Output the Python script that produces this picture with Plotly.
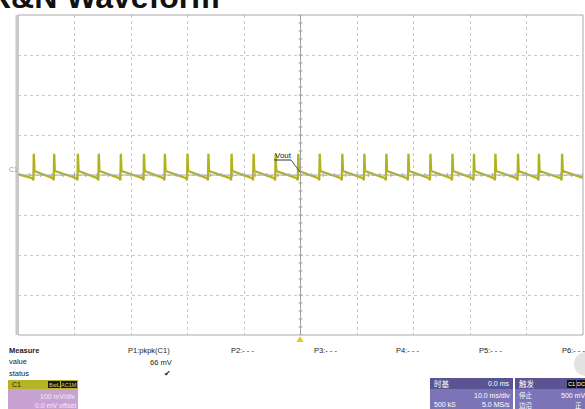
import plotly.graph_objects as go

# ---- scope settings ----
time_per_div_ms = 10.0
volt_per_div_mv = 100.0
x_range = [-50, 50]
y_range = [-400, 400]

# ---- ripple waveform (C1) ----
spike_times_ms = [-47.2, -43.6, -39.4, -35.7, -31.8, -27.7, -24.0, -20.0,
                  -16.3, -12.2, -8.3, -4.4, -0.4, 3.4, 7.4, 11.3, 15.2,
                  19.1, 23.0, 26.9, 30.7, 34.5, 38.5, 42.2, 46.3]
pkpk_mv = 66
valley_mv = -13
peak_mv = valley_mv + pkpk_mv
ramp_start_mv = 10
ramp_end_mv = -8
start_level_mv = 2
end_level_mv = -7

# ---- measurement panel ----
measure_labels = ["P1:pkpk(C1)", "P2:- - -", "P3:- - -", "P4:- - -", "P5:- - -", "P6:- - -"]
measure_value = f"{pkpk_mv} mV"

# build the trace from the spike list
xs = [x_range[0]]
ys = [start_level_mv]
for t in spike_times_ms:
    xs += [t - 0.25, t - 0.08, t, t + 0.12]
    ys += [ramp_end_mv, valley_mv, peak_mv, ramp_start_mv]
xs.append(x_range[1])
ys.append(end_level_mv)

TRACE = "#b2b21c"
GRID = "#c8c8c8"
FONT = "Liberation Sans, Arial, sans-serif"
CJK = "Noto Sans CJK SC, sans-serif"

W, H = 585, 409
L, R, T, B = 18, 583, 15, 335


def px(x):
    return (x - L) / (R - L)


def py(y):
    return (B - y) / (B - T)


fig = go.Figure()
fig.add_trace(go.Scatter(x=xs, y=ys, mode="lines",
                         line=dict(color=TRACE, width=2.3), hoverinfo="skip"))

shapes = []
# center cross-hair with minor ticks
shapes.append(dict(type="line", xref="x", yref="y", x0=0, x1=0, y0=y_range[0], y1=y_range[1],
                   line=dict(color="#a0a0a0", width=1)))
shapes.append(dict(type="line", xref="x", yref="y", x0=x_range[0], x1=x_range[1], y0=0, y1=0,
                   line=dict(color="#a8a8a8", width=1)))
for i in range(-25, 26):
    t = i * time_per_div_ms / 5
    shapes.append(dict(type="line", xref="x", yref="y", x0=t, x1=t, y0=-5, y1=5,
                       line=dict(color="#a8a8a8", width=1)))
for i in range(-20, 21):
    v = i * volt_per_div_mv / 5
    shapes.append(dict(type="line", xref="x", yref="y", x0=-0.35, x1=0.35, y0=v, y1=v,
                       line=dict(color="#a0a0a0", width=1)))
# graticule border
shapes.append(dict(type="rect", xref="paper", yref="paper", x0=0, x1=1, y0=0, y1=1,
                   line=dict(color="#a8a8a8", width=1)))
shapes.append(dict(type="line", xref="paper", yref="paper", x0=px(17), x1=px(17), y0=0, y1=1,
                   line=dict(color="#c8c8c8", width=3)))

# Vout callout
shapes.append(dict(type="line", xref="paper", yref="paper", x0=px(274), x1=px(291),
                   y0=py(160), y1=py(160), line=dict(color="#333333", width=1)))
shapes.append(dict(type="line", xref="paper", yref="paper", x0=px(291), x1=px(300),
                   y0=py(160), y1=py(172), line=dict(color="#555555", width=1)))

# trigger position marker under the graticule
shapes.append(dict(type="path", xref="paper", yref="paper",
                   path=f"M {px(296.5)} {py(342)} L {px(303.5)} {py(342)} L {px(300)} {py(336)} Z",
                   fillcolor="#d8cc2a", line=dict(width=0)))


def box(x0, x1, y0, y1, color):
    shapes.append(dict(type="rect", xref="paper", yref="paper", x0=px(x0), x1=px(x1),
                       y0=py(y1), y1=py(y0), fillcolor=color, line=dict(width=0), layer="above"))


# channel box
box(8, 78, 380, 409, "#c9a2d4")
box(8, 78, 380, 389, "#b4b424")
box(48, 60, 381, 388, "#1a1a1a")
box(61, 77, 381, 388, "#1a1a1a")
# timebase box
box(430, 513, 378, 409, "#7c74b6")
box(430, 513, 378, 389, "#5a5494")
# trigger box
box(515, 585, 378, 409, "#7c74b6")
box(515, 585, 378, 389, "#5a5494")
box(567, 576, 380, 388, "#111111")
box(577, 585, 380, 388, "#111111")
# faint watermark fragments
shapes.append(dict(type="circle", xref="paper", yref="paper", x0=px(574), x1=px(598),
                   y0=py(376), y1=py(352), fillcolor="#e2e2e2", line=dict(width=0)))

annotations = []


def text(x, y, s, size=8, color="#222222", anchor="left", bold=False, family=FONT):
    if bold:
        s = f"<b>{s}</b>"
    annotations.append(dict(x=px(x), y=py(y), xref="paper", yref="paper", text=s,
                            showarrow=False, xanchor=anchor, yanchor="middle",
                            borderpad=0,
                            font=dict(size=size, color=color, family=family)))


# title (partly above the page edge)
text(-13, -3, "R&N Waveform", size=32, color="#111111", bold=True)

text(8, 169, "C1", size=7, color=TRACE)
text(283, 155, "Vout", size=8, color="#222222", anchor="center")

text(8, 350, "Measure", size=7.5, bold=True)
text(8, 361, "value", size=7.5)
text(8, 373, "status", size=7.5)
meas_x = [127, 230, 313, 395, 478, 561]
for lab, mx in zip(measure_labels, meas_x):
    text(mx, 350, lab, size=7.5)
text(173, 362, measure_value, size=7.5, anchor="right")
text(167, 373, "✔", size=8, anchor="center")

text(11, 384, "C1", size=7, color="#222222")
text(54, 384.5, "BwL", size=5.5, color="#d8d060", anchor="center")
text(69, 384.5, "AC1M", size=5.5, color="#d8d060", anchor="center")
text(77, 396, f"{volt_per_div_mv:.0f} mV/div", size=7, color="#f4eaf6", anchor="right")
text(77, 405, "0.0 mV offset", size=7, color="#f4eaf6", anchor="right")

text(433, 383, "时基", size=7.5, color="#ffffff", family=CJK)
text(511, 383, "0.0 ms", size=7, color="#ffffff", anchor="right")
text(511, 395, f"{time_per_div_ms:.1f} ms/div", size=7, color="#ffffff", anchor="right")
text(433, 404, "500 kS", size=7, color="#ffffff")
text(511, 404, "5.0 MS/s", size=7, color="#ffffff", anchor="right")

text(518, 383, "触发", size=7.5, color="#ffffff", family=CJK)
text(571.5, 384, "C1", size=5.5, color="#ffffff", anchor="center")
text(581, 384, "DC", size=5.5, color="#ffffff", anchor="center")
text(518, 395, "停止", size=6.5, color="#ffffff", family=CJK)
text(586, 395, "500 mV", size=7, color="#ffffff", anchor="right")
text(518, 404.5, "边沿", size=6.5, color="#ffffff", family=CJK)
text(583, 404.5, "正", size=6.5, color="#ffffff", anchor="right", family=CJK)

fig.update_layout(
    width=W, height=H,
    margin=dict(l=L, r=W - R, t=T, b=H - B),
    paper_bgcolor="white", plot_bgcolor="white",
    showlegend=False,
    shapes=shapes, annotations=annotations,
    xaxis=dict(range=x_range, dtick=time_per_div_ms, tick0=0, showgrid=True,
               gridcolor=GRID, griddash="dot", gridwidth=1, zeroline=False,
               showticklabels=False, ticks="", fixedrange=True),
    yaxis=dict(range=y_range, dtick=volt_per_div_mv, tick0=0, showgrid=True,
               gridcolor=GRID, griddash="dot", gridwidth=1, zeroline=False,
               showticklabels=False, ticks="", fixedrange=True),
)

fig.write_html("out.html")
